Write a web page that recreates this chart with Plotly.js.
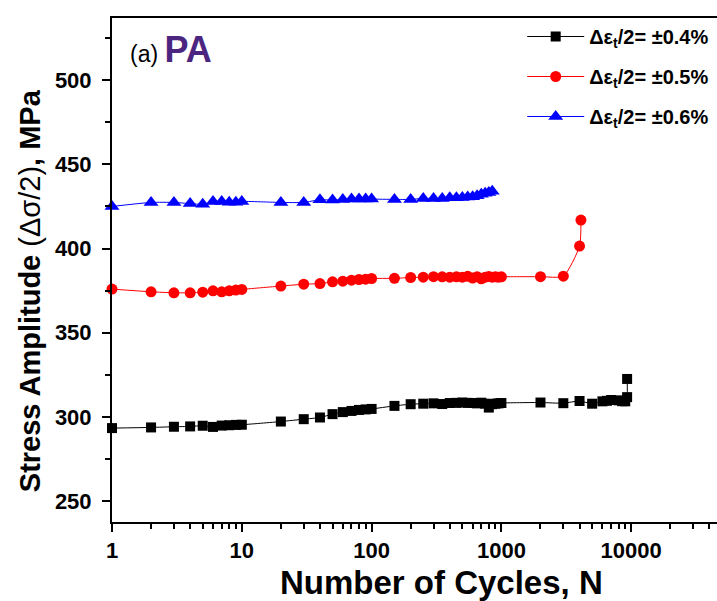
<!DOCTYPE html>
<html>
<head>
<meta charset="utf-8">
<script src="https://cdn.plot.ly/plotly-3.0.1.min.js"></script>
<style>
  html, body { margin: 0; padding: 0; background: #ffffff; }
  #chart { width: 717px; height: 601px; }
</style>
</head>
<body>
<div id="chart"></div>
<script>
// Cyclic stress response of PA at three total strain amplitudes.
const cyclesA = [1, 2, 3, 4, 5, 6, 7, 8, 9, 10, 20, 30, 40, 50, 60, 70, 80, 90, 100,
  150, 200, 250, 300, 350, 400, 450, 500, 550, 600, 650, 700, 750, 800, 850, 900, 950, 1000,
  2000, 3000, 4000, 5000, 6000, 6500, 7000, 8000, 8500, 9000, 9300, 9300];
const stressA = [293.3, 293.7, 294.1, 294.3, 294.7, 294.0, 294.8, 295.0, 295.2, 295.3,
  297.2, 298.6, 299.6, 301.6, 302.8, 303.5, 304.1, 304.4, 304.7,
  306.5, 307.5, 307.8, 308.0, 307.6, 308.2, 308.3, 308.5, 308.3, 308.2, 308.0, 308.4, 307.8,
  305.5, 307.5, 307.8, 308.0, 308.2,
  308.5, 308.1, 309.4, 307.8, 309.2, 309.5, 310.0, 309.8, 309.3, 309.2, 311.7, 322.5];

const cyclesB = [1, 2, 3, 4, 5, 6, 7, 8, 9, 10, 20, 30, 40, 50, 60, 70, 80, 90, 100,
  150, 200, 250, 300, 350, 400, 450, 500, 550, 600, 650, 700, 750, 800, 850, 900, 950, 1000,
  2000, 3000, 4000, 4100];
const stressB = [375.9, 374.3, 373.7, 373.7, 374.1, 374.9, 374.3, 374.9, 375.3, 375.7,
  377.7, 378.8, 379.2, 380.2, 380.6, 381.2, 381.6, 381.8, 382.2,
  382.3, 382.8, 383.0, 383.3, 383.2, 383.0, 383.2, 383.0, 383.5, 382.5, 383.3, 382.0, 383.0,
  383.4, 383.0, 383.2, 383.0, 383.2,
  383.3, 383.6, 401.5, 416.9];

const cyclesC = [1, 2, 3, 4, 5, 6, 7, 8, 9, 10, 20, 30, 40, 50, 60, 70, 80, 90, 100,
  150, 200, 250, 300, 350, 400, 450, 500, 550, 600, 650, 700, 750, 800, 850];
const stressC = [425.0, 427.4, 427.4, 426.7, 426.3, 427.9, 427.9, 427.5, 427.5, 428.0,
  427.4, 427.4, 429.0, 428.8, 429.2, 429.4, 429.5, 429.5, 429.4,
  429.2, 429.2, 429.8, 429.8, 429.8, 430.2, 430.2, 430.4, 430.6, 430.8, 431.4, 432.2, 432.8,
  433.3, 434.1];

const seriesNames = ['Δε<sub>t</sub>/2= ±0.4%', 'Δε<sub>t</sub>/2= ±0.5%', 'Δε<sub>t</sub>/2= ±0.6%'];
const seriesColors = ['#000000', '#ff0000', '#0000ff'];

const xTickVals = [1, 10, 100, 1000, 10000];
const xTickText = ['1', '10', '100', '1000', '10000'];
const yTickVals = [250, 300, 350, 400, 450, 500];

// minor ticks: 2..9 within every decade shown
const xMinorVals = [];
for (let d = 1; d <= 10000; d *= 10) {
  for (let k = 2; k <= 9; k++) xMinorVals.push(k * d);
}

const FONT = 'Liberation Sans, Arial, Helvetica, sans-serif';

function series(x, y, i, symbol, size) {
  return {
    x: x, y: y, type: 'scatter', mode: 'lines+markers',
    name: seriesNames[i], legendgroup: 'g' + i,
    line: { color: seriesColors[i], width: 1, shape: 'spline', smoothing: 0.6 },
    marker: { color: seriesColors[i], symbol: symbol, size: size, line: { width: 0 } },
    cliponaxis: false
  };
}

const data = [
  series(cyclesA, stressA, 0, 'square', 10),
  series(cyclesB, stressB, 1, 'circle', 11),
  series(cyclesC, stressC, 2, 'triangle-up', 13)
];

const layout = {
  width: 717, height: 601,
  margin: { l: 112, r: 0, t: 18, b: 79, pad: 0 },
  paper_bgcolor: '#ffffff', plot_bgcolor: '#ffffff',
  font: { family: FONT, color: '#000000' },
  showlegend: true,
  legend: {
    x: 0.678, y: 1.002, xanchor: 'left', yanchor: 'top',
    bgcolor: 'rgba(0,0,0,0)', borderwidth: 0,
    font: { family: FONT, size: 20, weight: 'bold', color: '#000000' },
    traceorder: 'grouped', tracegroupgap: 11, itemwidth: 57
  },
  xaxis: {
    type: 'log', range: [0, 4.661],
    showline: true, linecolor: '#000000', linewidth: 2, mirror: true,
    showgrid: false, zeroline: false,
    ticks: 'outside', ticklen: 8, tickwidth: 2, tickcolor: '#000000',
    tickmode: 'array', tickvals: xTickVals, ticktext: xTickText,
    tickfont: { family: FONT, size: 22, weight: 'bold' },
    minor: { ticks: 'outside', ticklen: 5, tickwidth: 2, tickcolor: '#000000',
             tickmode: 'array', tickvals: xMinorVals, showgrid: false }
  },
  yaxis: {
    range: [237.5, 537],
    showline: true, linecolor: '#000000', linewidth: 2, mirror: false,
    showgrid: false, zeroline: false,
    ticks: 'outside', ticklen: 8, tickwidth: 2, tickcolor: '#000000',
    tickmode: 'array', tickvals: yTickVals, ticklabelstandoff: 6,
    tickfont: { family: FONT, size: 22, weight: 'bold' },
    minor: { ticks: 'outside', ticklen: 5, tickwidth: 2, tickcolor: '#000000',
             dtick: 25, tick0: 250, showgrid: false }
  },
  annotations: [
    {
      xref: 'paper', yref: 'paper', x: 0.027, y: 0.937,
      xanchor: 'left', yanchor: 'middle', showarrow: false,
      text: '(a) <span style="font-size:36px;color:#4b2580"><b>PA</b></span>',
      font: { family: FONT, size: 23, color: '#000000' }
    },
    {
      xref: 'paper', yref: 'paper', x: 0.544, y: -0.121,
      xanchor: 'center', yanchor: 'middle', showarrow: false,
      text: '<b>Number of Cycles, N</b>',
      font: { family: FONT, size: 33, color: '#000000' }
    },
    {
      xref: 'paper', yref: 'paper', x: -0.1355, y: 0.458,
      xanchor: 'center', yanchor: 'middle', showarrow: false, textangle: -90,
      text: '<b>Stress Amplitude </b>(Δσ/2)<b>, MPa</b>',
      font: { family: FONT, size: 29, color: '#000000' }
    }
  ]
};

Plotly.newPlot('chart', data, layout, { staticPlot: true, displayModeBar: false });
</script>
</body>
</html>
